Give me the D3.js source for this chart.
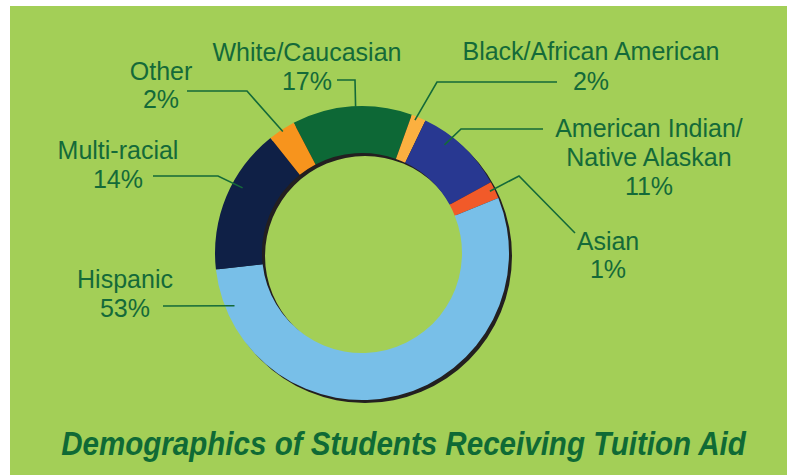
<!DOCTYPE html>
<html>
<head>
<meta charset="utf-8">
<script src="https://cdn.jsdelivr.net/npm/d3@7"></script>
<style>
	html, body { margin: 0; padding: 0; background: #fff; }
	svg { display: block; }
</style>
</head>
<body>
<svg id="chart" width="791" height="475"></svg>
<script>
// slices in drawing order, clockwise from the top-left
var groups = ["White/Caucasian", "Black/African American", "American Indian/Native Alaskan", "Asian", "Hispanic", "Multi-racial", "Other"];
// printed percentages
var pctLabels = ["17%", "2%", "11%", "1%", "53%", "14%", "2%"];
// slice sizes as drawn in the picture (they don't quite follow the printed numbers)
var shares = [13.2, 1.6, 9.9, 1.9, 54.3, 16.1, 3.0];
var colors = ["#0d6836", "#fbb040", "#283891", "#f15a29", "#78bfe8", "#0f2046", "#f7941d"];
var labelLines = [
	["White/Caucasian", "17%"],
	["Black/African American", "2%"],
	["American Indian/", "Native Alaskan", "11%"],
	["Asian", "1%"],
	["Hispanic", "53%"],
	["Multi-racial", "14%"],
	["Other", "2%"]
];
var title = "Demographics of Students Receiving Tuition Aid";

var CX = 362, CY = 253;
var R_OUT = 147, R_IN = 100;
var TEXT_COLOR = "#146a39";
var TITLE_WIDTH = 685; // px

// label placement: text centre / first baseline, leader start + elbow,
// and where along the slice (t) and how deep (r) the leader ends
var labelPos = [
	{ x: 307, y: 61, gap: 29, start: [337, 80], elbow: [355, 80], t: 0.53, r: 146 },
	{ x: 591, y: 60, gap: 30, start: [557, 82], elbow: [437, 82], t: 0.33, r: 143 },
	{ x: 649, y: 137, gap: 29, start: [543, 129], elbow: [461, 129], t: 0.33, r: 136 },
	{ x: 608, y: 250, gap: 28, start: [575, 233], elbow: [519, 176], t: 0.44, r: 142 },
	{ x: 125, y: 288, gap: 29, start: [163, 306], elbow: [163, 306], t: 0.918, r: 138 },
	{ x: 118, y: 159, gap: 29, start: [153, 176], elbow: [218, 176], t: 0.605, r: 136 },
	{ x: 161, y: 80, gap: 28, start: [187, 91], elbow: [247, 91], t: 0.5, r: 145 }
];

var svg = d3.select("#chart");

svg.append("rect")
	.attr("x", 10).attr("y", 6)
	.attr("width", 777).attr("height", 469)
	.attr("fill", "#a3cf57");

var pie = d3.pie()
	.sort(null)
	.value(function(d) { return d; })
	.startAngle(-27.7 * Math.PI / 180)
	.endAngle((360 - 27.7) * Math.PI / 180);

var arcs = pie(shares);

var arc = d3.arc().innerRadius(R_IN).outerRadius(R_OUT);

var ring = svg.append("g").attr("transform", "translate(" + CX + "," + CY + ")");

// dark drop shadow behind the ring
ring.append("path")
	.attr("transform", "translate(3,3)")
	.attr("fill", "#231f20")
	.attr("d", d3.arc().innerRadius(R_IN).outerRadius(R_OUT).startAngle(0).endAngle(2 * Math.PI)());

ring.selectAll("path.slice")
	.data(arcs)
	.enter().append("path")
		.attr("class", "slice")
		.attr("fill", function(d, i) { return colors[i]; })
		.attr("d", arc);

// leader lines
var leaders = svg.append("g")
	.attr("fill", "none")
	.attr("stroke", TEXT_COLOR)
	.attr("stroke-width", 1.6);

arcs.forEach(function(d, i) {
	var p = labelPos[i];
	var a = d.startAngle + (d.endAngle - d.startAngle) * p.t;
	var end = [CX + p.r * Math.sin(a), CY - p.r * Math.cos(a)];
	leaders.append("path")
		.attr("d", d3.line()([p.start, p.elbow, end]));
});

// labels
var labels = svg.append("g")
	.attr("font-family", "'Liberation Sans', Arial, sans-serif")
	.attr("font-size", 25)
	.attr("fill", TEXT_COLOR)
	.attr("text-anchor", "middle");

labelLines.forEach(function(lines, i) {
	var p = labelPos[i];
	var t = labels.append("text").attr("x", p.x).attr("y", p.y);
	lines.forEach(function(s, j) {
		t.append("tspan")
			.attr("x", p.x)
			.attr("dy", j === 0 ? 0 : p.gap)
			.text(s);
	});
});

// title: squeeze horizontally to the condensed width of the original
var titleG = svg.append("g").attr("transform", "translate(403.5,455)");
var titleText = titleG.append("text")
	.attr("x", 0)
	.attr("y", 0)
	.attr("text-anchor", "middle")
	.attr("font-family", "'Liberation Sans', Arial, sans-serif")
	.attr("font-weight", "bold")
	.attr("font-style", "italic")
	.attr("font-size", 33)
	.attr("fill", "#0f6a35")
	.text(title);

var natural = titleText.node().getComputedTextLength();
titleText.attr("transform", "scale(" + (TITLE_WIDTH / natural) + ",1)");
</script>
</body>
</html>
